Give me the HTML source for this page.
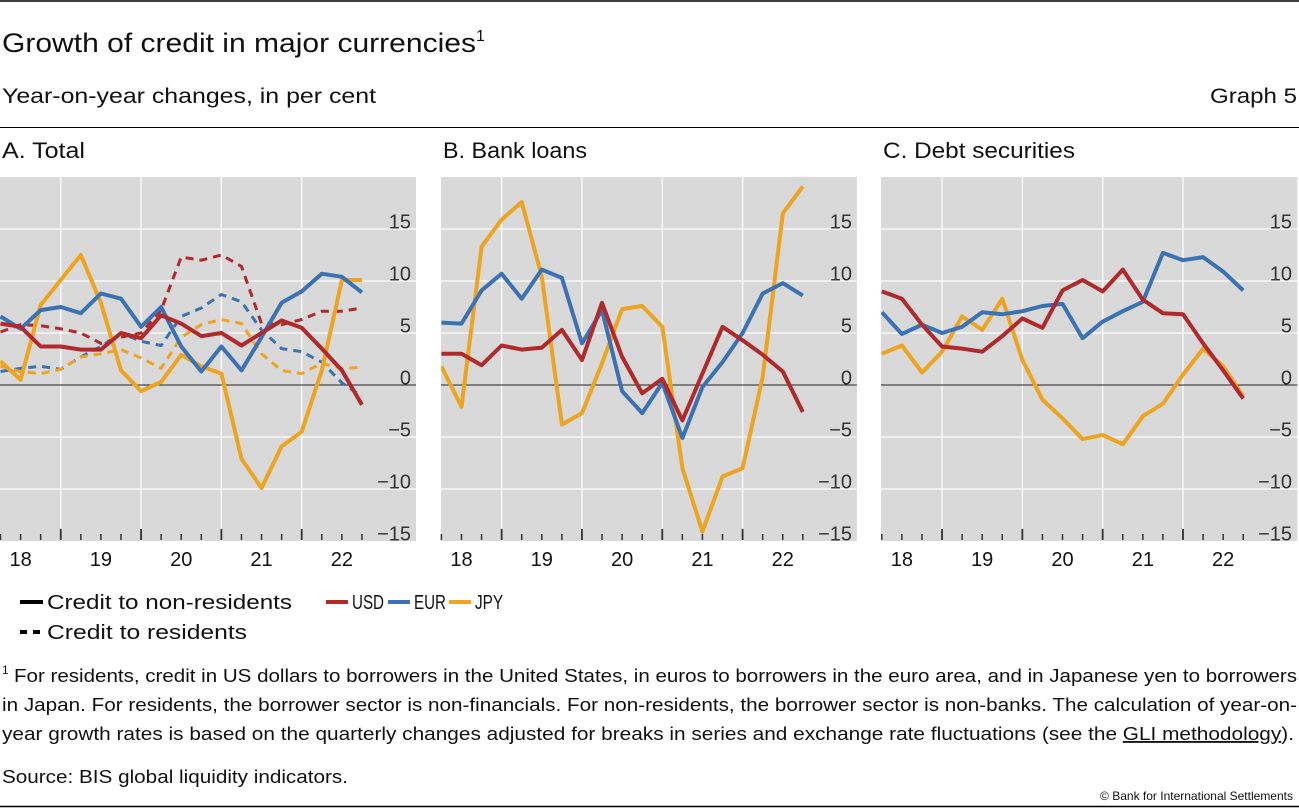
<!DOCTYPE html>
<html><head><meta charset="utf-8"><style>
html,body{margin:0;padding:0;background:#fff;}
svg{display:block;font-family:"Liberation Sans",sans-serif;}
</style></head><body>
<svg id="chart" width="1299" height="808" viewBox="0 0 1299 808" xmlns="http://www.w3.org/2000/svg">
<line x1="0" y1="1" x2="1299" y2="1" stroke="#000" stroke-width="1.5"/>
<text x="2" y="52" font-size="27" fill="#111"><tspan textLength="474" lengthAdjust="spacingAndGlyphs">Growth of credit in major currencies</tspan><tspan font-size="16" dy="-11">1</tspan></text>
<text x="2" y="103" font-size="21.5" fill="#111" textLength="374" lengthAdjust="spacingAndGlyphs">Year-on-year changes, in per cent</text>
<text x="1297" y="103" font-size="21.5" fill="#111" text-anchor="end" textLength="87" lengthAdjust="spacingAndGlyphs">Graph 5</text>
<line x1="0" y1="127.5" x2="1299" y2="127.5" stroke="#000" stroke-width="1"/>
<g id="panels"></g>
<g>
<line x1="20" y1="602" x2="43" y2="602" stroke="#000" stroke-width="4"/>
<text x="47" y="609" font-size="20" fill="#111" textLength="245" lengthAdjust="spacingAndGlyphs">Credit to non-residents</text>
<line x1="20" y1="632" x2="41" y2="632" stroke="#000" stroke-width="4" stroke-dasharray="7,6"/>
<text x="47" y="639" font-size="20" fill="#111" textLength="200" lengthAdjust="spacingAndGlyphs">Credit to residents</text>
</g>
<g>
<line x1="326" y1="602" x2="348" y2="602" stroke="#b2292b" stroke-width="4"/>
<text x="352" y="609" font-size="20" fill="#111" textLength="32" lengthAdjust="spacingAndGlyphs">USD</text>
<line x1="388" y1="602" x2="410" y2="602" stroke="#3b72b6" stroke-width="4"/>
<text x="414" y="609" font-size="20" fill="#111" textLength="32" lengthAdjust="spacingAndGlyphs">EUR</text>
<line x1="449" y1="602" x2="471" y2="602" stroke="#eea420" stroke-width="4"/>
<text x="475" y="609" font-size="20" fill="#111" textLength="28" lengthAdjust="spacingAndGlyphs">JPY</text>
</g>
<g font-size="18.5" fill="#111">
<text x="2" y="674" font-size="12">1</text>
<text x="14" y="682" textLength="1283" lengthAdjust="spacingAndGlyphs">For residents, credit in US dollars to borrowers in the United States, in euros to borrowers in the euro area, and in Japanese yen to borrowers</text>
<text x="2" y="711" textLength="1295" lengthAdjust="spacingAndGlyphs">in Japan. For residents, the borrower sector is non-financials. For non-residents, the borrower sector is non-banks. The calculation of year-on-</text>
<text x="2" y="740" textLength="1292" lengthAdjust="spacingAndGlyphs">year growth rates is based on the quarterly changes adjusted for breaks in series and exchange rate fluctuations (see the <tspan text-decoration="underline">GLI methodology</tspan>).</text>
<text x="2" y="783" textLength="346" lengthAdjust="spacingAndGlyphs">Source: BIS global liquidity indicators.</text>
</g>
<text x="1293" y="800" font-size="12" fill="#111" text-anchor="end">© Bank for International Settlements</text>
<line x1="0" y1="806.5" x2="1299" y2="806.5" stroke="#000" stroke-width="1.5"/>
</svg>
<script>
const yTicks = [-15, -10, -5, 0, 5, 10, 15];
const yearLabels = ["18", "19", "20", "21", "22"];
const panelTitles = ["A. Total", "B. Bank loans", "C. Debt securities"];
// Panel A
const aUsdNonRes = [5.9,5.6,3.7,3.7,3.4,3.4,5.0,4.5,6.7,5.9,4.7,5.0,3.8,5.0,6.2,5.5,3.5,1.4,-1.9];
const aEurNonRes = [6.6,5.4,7.2,7.5,6.9,8.8,8.3,5.6,7.5,3.7,1.3,3.7,1.4,4.6,7.9,9.0,10.7,10.4,8.9];
const aJpyNonRes = [2.3,0.5,7.7,10.1,12.5,7.9,1.4,-0.6,0.3,2.9,1.8,1.1,-7.1,-9.9,-5.9,-4.5,1.4,10.1,10.1];
const aUsdRes = [5.1,5.8,5.7,5.4,5.0,4.0,4.6,5.0,7.2,12.3,12.0,12.5,11.4,5.9,5.8,6.3,7.1,7.1,7.4];
const aEurRes = [1.3,1.6,1.8,1.5,2.7,3.7,5.0,4.2,3.8,6.6,7.4,8.7,8.0,5.3,3.5,3.2,2.2,0.2,-1.1];
const aJpyRes = [1.8,1.3,1.1,1.5,2.7,3.0,3.4,2.6,1.6,4.6,5.8,6.3,5.9,3.0,1.4,1.1,2.1,1.6,1.7];
// Panel B
const bUsd = [3.0,3.0,1.9,3.8,3.4,3.6,5.3,2.4,7.9,2.7,-0.8,0.6,-3.4,1.1,5.6,4.3,2.9,1.3,-2.6];
const bEur = [6.0,5.9,9.1,10.7,8.3,11.1,10.3,4.0,7.2,-0.6,-2.7,0.2,-5.1,-0.2,2.2,5.0,8.8,9.8,8.6];
const bJpy = [1.8,-2.1,13.3,15.9,17.6,10.4,-3.8,-2.7,2.1,7.3,7.6,5.6,-8.0,-14.1,-8.8,-8.0,0.8,16.5,19.1];
// Panel C
const cUsd = [9.0,8.3,5.8,3.7,3.5,3.2,4.7,6.4,5.5,9.1,10.1,9.0,11.1,8.2,6.9,6.8,4.0,1.4,-1.3];
const cEur = [7.0,4.9,5.8,5.0,5.6,7.0,6.8,7.1,7.6,7.8,4.5,6.1,7.1,8.0,12.7,12.0,12.3,10.9,9.1];
const cJpy = [3.0,3.8,1.2,3.2,6.6,5.3,8.3,2.4,-1.4,-3.2,-5.2,-4.8,-5.7,-3.0,-1.8,1.0,3.5,1.8,-1.1];

const NS = "http://www.w3.org/2000/svg";
const COLORS = {usd:"#b2292b", eur:"#3b72b6", jpy:"#eea420"};
const panelX0 = [0.5, 441.4, 881.8];
const titleWidths = [83, 144, 192];
const STEP = 20.08, TOP = 177, BOT = 541, ZERO_Y = 385, PX_PER = 10.4;
function yScale(v){ return ZERO_Y - v * PX_PER; }
function mk(tag, attrs, parent){
  const e = document.createElementNS(NS, tag);
  for (const k in attrs) e.setAttribute(k, attrs[k]);
  parent.appendChild(e); return e;
}
const root = document.getElementById("panels");
const panelSeries = [
  [[aUsdRes,"usd",true],[aEurRes,"eur",true],[aJpyRes,"jpy",true],[aJpyNonRes,"jpy",false],[aEurNonRes,"eur",false],[aUsdNonRes,"usd",false]],
  [[bJpy,"jpy",false],[bEur,"eur",false],[bUsd,"usd",false]],
  [[cJpy,"jpy",false],[cEur,"eur",false],[cUsd,"usd",false]]
];
const panelNames = ["total","bank-loans","debt-securities"];
panelSeries.forEach((series, p) => {
  const x0 = panelX0[p];
  const left = Math.floor(x0), right = x0 + 415.5;
  const xScale = i => x0 + i * STEP;
  const g = mk("g", {}, root);
  
  
  const title = mk("text", {x: left + 2, y: 158, "font-size": 22, fill: "#111", textLength: titleWidths[p], lengthAdjust: "spacingAndGlyphs"}, g);
  title.textContent = panelTitles[p];
  
  
  const bg = mk("rect", {x: left, y: TOP, width: right - left, height: BOT - TOP, fill: "#d9d9d9"}, g);
  
  
  yTicks.forEach(t => {
    if (t !== 0 && t !== -15) {
      const gl = mk("line", {x1: left, x2: right, y1: yScale(t), y2: yScale(t), stroke: "#fff", "stroke-width": 1.2}, g);
      
      
    }
    const lb = mk("text", {x: left + 411, y: yScale(t) - 0.5, "font-size": 20, fill: "#333", "text-anchor": "end"}, g);
    lb.textContent = t < 0 ? "\u2212" + Math.abs(t) : String(t);
    
    
  });
  for (let y = 0; y < yearLabels.length - 1; y++) {
    const gx = xScale(3 + 4 * y);
    const vl = mk("line", {x1: gx, x2: gx, y1: TOP, y2: BOT, stroke: "#fff", "stroke-width": 1.2}, g);
    
    
  }
  const zl = mk("line", {x1: left, x2: right, y1: ZERO_Y, y2: ZERO_Y, stroke: "#222", "stroke-width": 1}, g);
  
  
  for (let i = 0; i < 19; i++) {
    const big = (i % 4 === 3);
    const tk = mk("line", {x1: xScale(i), x2: xScale(i), y1: big ? 529 : 534, y2: 540, stroke: "#333", "stroke-width": big ? 1.8 : 1.5}, g);
    
    
  }
  yearLabels.forEach((lab, k) => {
    const t = mk("text", {x: xScale(1 + 4 * k), y: 566, "font-size": 20, fill: "#111", "text-anchor": "middle"}, g);
    t.textContent = lab;
    
    
  });
  const clipId = "clip" + p;
  const cp = mk("clipPath", {id: clipId}, g);
  mk("rect", {x: left, y: TOP, width: right - left, height: BOT - TOP}, cp);
  series.forEach(([vals, cur, dashed]) => {
    const d = vals.map((v, i) => (i ? "L" : "M") + xScale(i).toFixed(1) + "," + yScale(v).toFixed(1)).join("");
    const attrs = {d: d, fill: "none", stroke: COLORS[cur], "stroke-width": dashed ? 3 : 4, "stroke-linejoin": "round", "clip-path": "url(#" + clipId + ")"};
    if (dashed) attrs["stroke-dasharray"] = "8,6";
    const path = mk("path", attrs, g);
    
    
  });
});
</script>
</body></html>
